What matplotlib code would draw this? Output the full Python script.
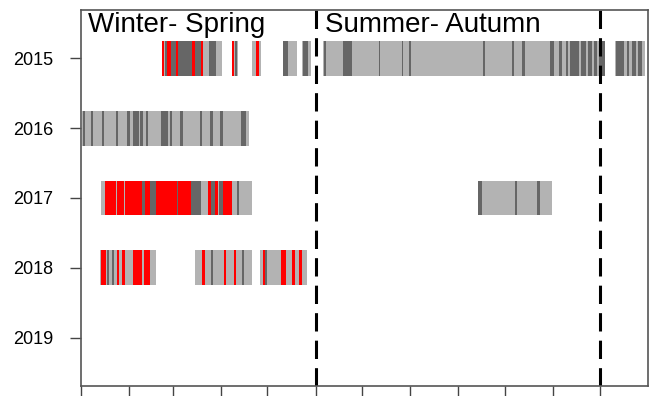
import matplotlib.pyplot as plt

# years on the y axis (top to bottom)
years = ['2015', '2016', '2017', '2018', '2019']

# light grey periods per year: (start day of year, length in days)
periods = {
    '2015': [(52, 38.5), (97, 4), (110, 6), (130, 9), (142, 6), (156, 181), (344, 19)],
    '2016': [(0.4, 108)],
    '2017': [(12.6, 97.7), (255.6, 47.8)],
    '2018': [(12.2, 36.4), (73.6, 36.7), (115.4, 30)],
    '2019': [],
}

# dark grey days: (start day, length)
dark_days = {
    '2015': [(54, 1.3), (57.8, 3.2), (62.5, 9.2), (73.2, 3.8), (82.4, 4.7), (99.3, 1.3),
             (130.2, 3), (143.2, 3), (156.5, 1), (168.7, 5.5), (191.6, 1.1), (206.5, 1),
             (211, 1.5), (259, 1), (277.7, 1), (284, 1.5), (302, 2.2), (308, 1.7),
             (312, 1.6), (314.5, 6), (321.6, 3.6), (326.5, 2.5), (330, 2.2), (333.3, 3.7),
             (344.4, 5), (351.5, 1.5), (354.7, 2.6), (358.6, 2.5)],
    '2016': [(1.1, 1.5), (6.2, 1.7), (13.3, 1.7), (22.5, 1.5), (29.7, 1.8), (33.6, 3.9),
             (38.3, 1.7), (41.7, 1.5), (51.8, 4.2), (57.2, 1.4), (63.6, 2.1), (76.4, 1.8),
             (82.9, 2.1), (89.7, 1.7), (103.2, 2.8)],
    '2017': [(39.4, 2), (44.5, 3.5), (61.5, 1), (71, 6.5), (84, 2), (89, 2.4), (100.4, 1.6),
             (255.6, 2.4), (279.4, 1.5), (293.7, 1.5)],
    '2018': [(16.9, 1.3), (19.7, 1.7), (36, 1), (83.5, 1.5), (103.6, 1.5), (118.5, 1.2)],
    '2019': [],
}

# red days: (start day, length)
red_days = {
    '2015': [(52, 1.3), (55.2, 2.6), (61, 1.5), (71.7, 1.5), (77, 1.5), (97, 1.3), (112.5, 2)],
    '2016': [],
    '2017': [(15.4, 7.4), (23.4, 4.2), (28.2, 11.2), (41.4, 3.1), (48, 13.5), (62.5, 8.5),
             (81.8, 2.2), (86, 2.3), (91.4, 6)],
    '2018': [(12.6, 3.4), (22.9, 1.7), (26.1, 2.2), (33.6, 5.4), (40.5, 3.8), (77.9, 2.1),
             (91.8, 1.8), (98.3, 1.7), (117, 1.5), (128.5, 3.6), (136, 2), (140.2, 2.2)],
    '2019': [],
}

month_starts = [0, 31, 59, 90, 120, 151, 181, 212, 243, 273, 304, 334]
season_breaks = [151, 334]

plt.rcParams['font.family'] = ['Liberation Sans', 'DejaVu Sans']

fig = plt.figure(figsize=(6.58, 3.96), dpi=100)
ax = fig.add_axes([81 / 658, 10 / 396, 567 / 658, 376 / 396])

for i, y in enumerate(years):
    yr = (i - 0.25, 0.5)
    ax.broken_barh(periods[y], yr, facecolor='#b3b3b3', edgecolor='none')
    ax.broken_barh(dark_days[y], yr, facecolor='#666666', edgecolor='none')
    ax.broken_barh(red_days[y], yr, facecolor='#ff0000', edgecolor='none')

for d in season_breaks:
    ax.axvline(d, color='black', lw=2.2, dashes=(6, 3))

ax.text(0.012, 0.995, 'Winter- Spring', transform=ax.transAxes, fontsize=20,
        ha='left', va='top')
ax.text(0.43, 0.995, 'Summer- Autumn', transform=ax.transAxes, fontsize=20,
        ha='left', va='top')

ax.set_xlim(0, 365)
ax.set_ylim(4.686, -0.686)
ax.set_xticks(month_starts)
ax.set_xticklabels([])
ax.set_yticks(range(len(years)))
ax.set_yticklabels(years, fontsize=13)
ax.tick_params(axis='x', length=10, width=1, color='#444444')
ax.tick_params(axis='y', length=8, width=1, color='#444444', pad=12)
for s in ax.spines.values():
    s.set_color('#555555')
    s.set_linewidth(1.2)

fig.savefig('out.png', dpi=100)
